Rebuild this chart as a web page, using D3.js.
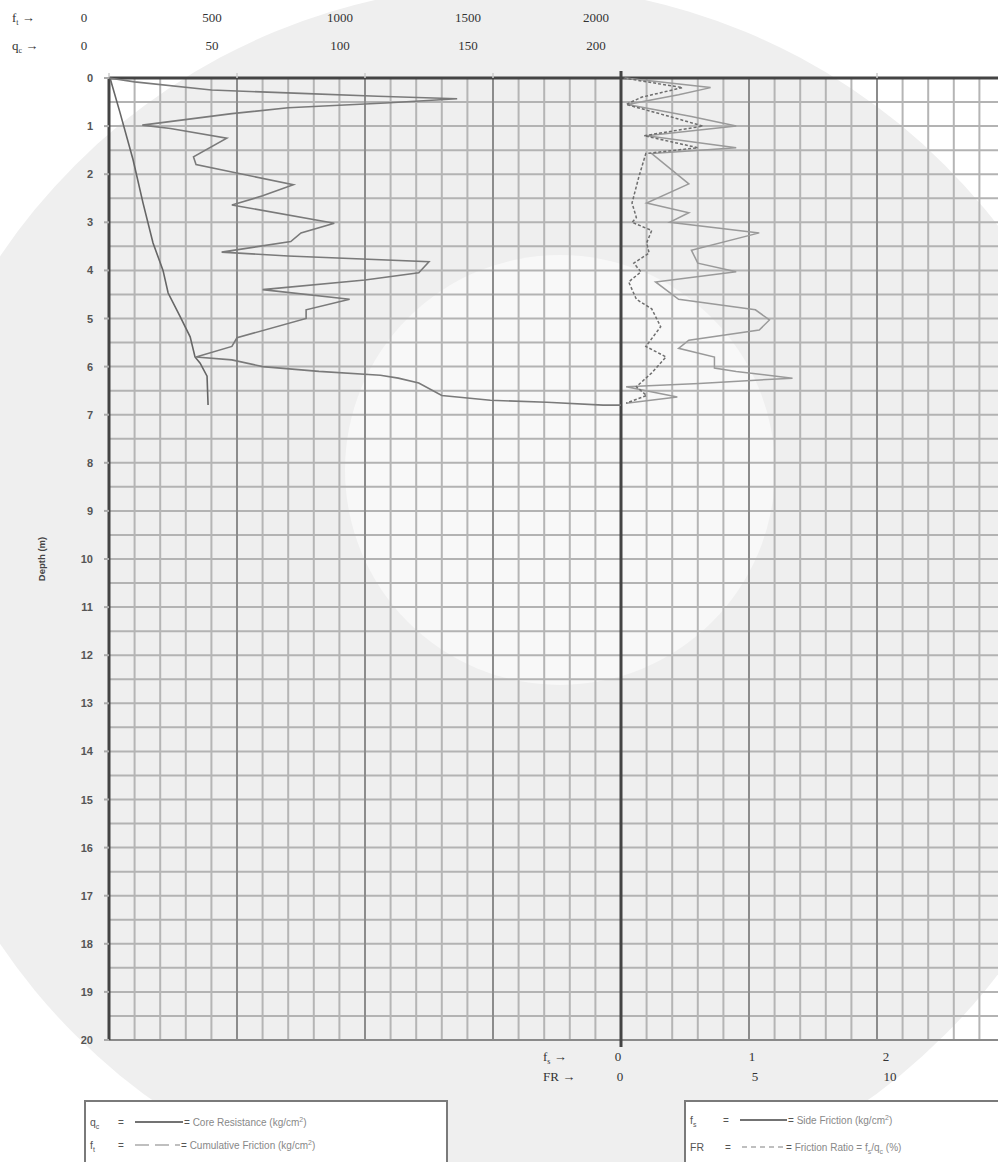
<!DOCTYPE html>
<html>
<head>
<meta charset="utf-8">
<script src="https://cdn.jsdelivr.net/npm/d3@7"></script>
<style>
  body { margin: 0; background: #fff; }
  svg { display: block; }
  .serif { font-family: "Liberation Serif", "DejaVu Serif", serif; fill: #333; }
  .sans { font-family: "Liberation Sans", Arial, sans-serif; }
</style>
</head>
<body>
<div id="wrapper"></div>
<script>
// tick labels
const depthTicks = d3.range(0, 21);
const ftTicks = [0, 500, 1000, 1500, 2000];
const qcTicks = [0, 50, 100, 150, 200];
const fsTicks = [0, 1, 2];
const frTicks = [0, 5, 10];

// cone resistance qc (kg/cm2) vs depth (m)
const qcDepth = [0, 0.08, 0.25, 0.32, 0.38, 0.43, 0.52, 0.62, 0.74, 0.98, 1.05, 1.25, 1.64, 1.8, 2.22, 2.45, 2.64, 3.02, 3.22, 3.4, 3.62, 3.7, 3.82, 4.05, 4.2, 4.4, 4.6, 4.82, 5.0, 5.4, 5.58, 5.8, 5.86, 6.0, 6.1, 6.18, 6.24, 6.34, 6.6, 6.7, 6.74, 6.8, 6.8];
const qcValue = [0, 10, 40, 75, 105, 136, 108, 70, 48, 13, 24, 46, 33, 34, 72, 60, 48, 88, 75, 71, 44, 70, 125, 121, 100, 60, 94, 77, 77, 50, 48, 34, 48, 60, 82, 106, 113, 121, 130, 149, 171, 193, 200];

// cumulative friction ft (kg/cm) vs depth
const ftDepth = [0, 0.72, 1.7, 2.6, 3.43, 4.0, 4.47, 4.96, 5.38, 5.8, 5.93, 6.2, 6.8];
const ftValue = [4, 43, 94, 133, 172, 211, 231, 278, 317, 336, 356, 383, 387];

// side friction fs (kg/cm2) vs depth
const fsDepth = [0, 0.2, 0.35, 0.55, 0.8, 1.0, 1.2, 1.45, 1.57, 2.2, 2.6, 2.8, 3.0, 3.22, 3.58, 3.85, 4.03, 4.24, 4.6, 4.82, 5.03, 5.24, 5.45, 5.62, 5.8, 6.03, 6.1, 6.24, 6.35, 6.42, 6.63, 6.76];
const fsValue = [0.03, 0.7, 0.45, 0.05, 0.55, 0.9, 0.2, 0.9, 0.24, 0.53, 0.2, 0.53, 0.38, 1.08, 0.55, 0.6, 0.9, 0.27, 0.45, 1.05, 1.16, 1.08, 0.53, 0.45, 0.73, 0.73, 0.9, 1.34, 0.61, 0.04, 0.44, 0.04];

// friction ratio FR (%) vs depth
const frDepth = [0, 0.2, 0.4, 0.55, 0.8, 1.0, 1.2, 1.45, 1.57, 2.05, 2.6, 2.9, 3.0, 3.17, 3.43, 3.64, 3.85, 4.03, 4.24, 4.6, 4.8, 5.17, 5.58, 5.8, 6.13, 6.42, 6.6, 6.76];
const frValue = [0.1, 2.4, 0.8, 0.2, 1.9, 3.2, 0.9, 3.0, 0.97, 0.7, 0.43, 0.6, 0.43, 1.2, 1.0, 1.1, 0.5, 0.78, 0.3, 0.6, 1.2, 1.55, 0.97, 1.76, 1.2, 0.6, 1.0, 0.2];

const width = 998, height = 1162;
const plotLeft = 109, plotMid = 621, plotTop = 78, plotBottom = 1040;

const svg = d3.select('#wrapper').append('svg')
    .attr('width', width)
    .attr('height', height);

// scales
const yScale = d3.scaleLinear().domain([0, 20]).range([plotTop, plotBottom]);
const qcScale = d3.scaleLinear().domain([0, 200]).range([plotLeft, plotMid]);
const ftScale = d3.scaleLinear().domain([0, 2000]).range([plotLeft, plotMid]);
const fsScale = d3.scaleLinear().domain([0, 3]).range([plotMid, plotMid + 384]);
const frScale = d3.scaleLinear().domain([0, 15]).range([plotMid, plotMid + 384]);

// faint watermark background
svg.append('circle')
    .attr('cx', 510).attr('cy', 600).attr('r', 615)
    .attr('fill', '#efefef');
svg.append('circle')
    .attr('cx', 560).attr('cy', 470).attr('r', 215)
    .attr('fill', '#f8f8f8');

// grid
const grid = svg.append('g');
grid.selectAll('.hline')
    .data(d3.range(0.5, 20, 0.5))
    .enter().append('line')
    .attr('x1', plotLeft).attr('x2', width)
    .attr('y1', d => yScale(d)).attr('y2', d => yScale(d))
    .attr('stroke', '#b3b3b3').attr('stroke-width', 2);
grid.selectAll('.vq')
    .data(d3.range(10, 200, 10))
    .enter().append('line')
    .attr('x1', d => qcScale(d)).attr('x2', d => qcScale(d))
    .attr('y1', plotTop).attr('y2', plotBottom)
    .attr('stroke', d => d % 50 === 0 ? '#8c8c8c' : '#b5b5b5')
    .attr('stroke-width', 2);
grid.selectAll('.vf')
    .data(d3.range(1, 15))
    .enter().append('line')
    .attr('x1', d => fsScale(d * 0.2)).attr('x2', d => fsScale(d * 0.2))
    .attr('y1', plotTop).attr('y2', plotBottom)
    .attr('stroke', d => d % 5 === 0 ? '#8c8c8c' : '#b5b5b5')
    .attr('stroke-width', 2);

// frame
svg.append('line')
    .attr('x1', plotLeft - 4).attr('x2', width)
    .attr('y1', plotBottom).attr('y2', plotBottom)
    .attr('stroke', '#8a8a8a').attr('stroke-width', 2);
svg.append('line')
    .attr('x1', plotLeft).attr('x2', width)
    .attr('y1', plotTop).attr('y2', plotTop)
    .attr('stroke', '#444').attr('stroke-width', 3);
svg.append('line')
    .attr('x1', plotLeft).attr('x2', plotLeft)
    .attr('y1', plotTop).attr('y2', plotBottom)
    .attr('stroke', '#444').attr('stroke-width', 3);
svg.append('line')
    .attr('x1', plotMid).attr('x2', plotMid)
    .attr('y1', plotTop - 7).attr('y2', plotBottom + 7)
    .attr('stroke', '#444').attr('stroke-width', 3);

// small ticks
svg.selectAll('.ttick')
    .data(qcTicks.slice(0, 4))
    .enter().append('line')
    .attr('x1', d => qcScale(d)).attr('x2', d => qcScale(d))
    .attr('y1', plotTop - 5).attr('y2', plotTop)
    .attr('stroke', '#ccc').attr('stroke-width', 1.5);
svg.append('line')
    .attr('x1', fsScale(2)).attr('x2', fsScale(2))
    .attr('y1', plotTop - 5).attr('y2', plotTop)
    .attr('stroke', '#ccc').attr('stroke-width', 1.5);
svg.selectAll('.dtick')
    .data(depthTicks)
    .enter().append('line')
    .attr('x1', plotLeft - 5).attr('x2', plotLeft)
    .attr('y1', d => yScale(d)).attr('y2', d => yScale(d))
    .attr('stroke', '#aaa').attr('stroke-width', 2);

// depth labels
svg.selectAll('.dlabel')
    .data(depthTicks)
    .enter().append('text')
    .attr('class', 'sans')
    .attr('x', 93)
    .attr('y', d => yScale(d) + 4)
    .attr('text-anchor', 'end')
    .attr('font-size', 11)
    .attr('font-weight', 'bold')
    .attr('fill', '#555')
    .text(d => d);
svg.append('text')
    .attr('class', 'sans')
    .attr('transform', `translate(45,${yScale(10)}) rotate(-90)`)
    .attr('text-anchor', 'middle')
    .attr('font-size', 9.5)
    .attr('font-weight', 'bold')
    .attr('fill', '#444')
    .text('Depth (m)');

// top axis labels
function axisName(x, y, main, sub) {
    const t = svg.append('text').attr('class', 'serif').attr('x', x).attr('y', y).attr('font-size', 13);
    t.append('tspan').text(main);
    t.append('tspan').attr('font-size', 8).attr('dy', 3).text(sub);
    t.append('tspan').attr('dy', -3).attr('font-weight', 'bold').text(' \u2192');
}
axisName(12, 22, 'f', 't');
axisName(12, 50, 'q', 'c');
svg.selectAll('.ftlabel')
    .data(ftTicks)
    .enter().append('text')
    .attr('class', 'serif')
    .attr('x', d => ftScale(d) - 25)
    .attr('y', 22)
    .attr('text-anchor', 'middle')
    .attr('font-size', 13)
    .text(d => d);
svg.selectAll('.qclabel')
    .data(qcTicks)
    .enter().append('text')
    .attr('class', 'serif')
    .attr('x', d => qcScale(d) - 25)
    .attr('y', 50)
    .attr('text-anchor', 'middle')
    .attr('font-size', 13)
    .text(d => d);

// bottom axis labels
axisName(543, 1061, 'f', 's');
svg.append('text').attr('class', 'serif').attr('x', 543).attr('y', 1081)
    .attr('font-size', 13).text('FR \u2192');
svg.selectAll('.fslabel')
    .data(fsTicks)
    .enter().append('text')
    .attr('class', 'serif')
    .attr('x', (d, i) => fsScale(d) - 3 + i * 6)
    .attr('y', 1061)
    .attr('text-anchor', 'middle')
    .attr('font-size', 13)
    .text(d => d);
svg.selectAll('.frlabel')
    .data(frTicks)
    .enter().append('text')
    .attr('class', 'serif')
    .attr('x', (d, i) => frScale(d) - 1 + i * 7)
    .attr('y', 1081)
    .attr('text-anchor', 'middle')
    .attr('font-size', 13)
    .text(d => d);

// curves
const qcLine = d3.line().x(d => qcScale(d[1])).y(d => yScale(d[0]));
const ftLine = d3.line().x(d => ftScale(d[1])).y(d => yScale(d[0]));
const fsLine = d3.line().x(d => fsScale(d[1])).y(d => yScale(d[0]));
const frLine = d3.line().x(d => frScale(d[1])).y(d => yScale(d[0]));

svg.append('path')
    .attr('d', ftLine(d3.zip(ftDepth, ftValue)))
    .attr('fill', 'none').attr('stroke', '#666').attr('stroke-width', 1.6);
svg.append('path')
    .attr('d', qcLine(d3.zip(qcDepth, qcValue)))
    .attr('fill', 'none').attr('stroke', '#7a7a7a').attr('stroke-width', 1.6);
svg.append('path')
    .attr('d', fsLine(d3.zip(fsDepth, fsValue)))
    .attr('fill', 'none').attr('stroke', '#9a9a9a').attr('stroke-width', 1.5);
svg.append('path')
    .attr('d', frLine(d3.zip(frDepth, frValue)))
    .attr('fill', 'none').attr('stroke', '#6e6e6e').attr('stroke-width', 1.5)
    .attr('stroke-dasharray', '3,2');

// legends
function legendBox(x, w) {
    svg.append('rect')
        .attr('x', x).attr('y', 1101).attr('width', w).attr('height', 80)
        .attr('fill', '#fff').attr('stroke', '#7a7a7a').attr('stroke-width', 2);
}
function legendRow(x, y, main, sub, dashed, label, lineX0, lineX1) {
    const t = svg.append('text').attr('class', 'sans').attr('x', x).attr('y', y)
        .attr('font-size', 10.5).attr('fill', '#555');
    t.append('tspan').text(main);
    if (sub) t.append('tspan').attr('font-size', 7).attr('dy', 3).text(sub);
    svg.append('text').attr('class', 'sans').attr('x', lineX0 - 17).attr('y', y)
        .attr('font-size', 10).attr('fill', '#555').text('=');
    svg.append('line')
        .attr('x1', lineX0).attr('x2', lineX1)
        .attr('y1', y - 4).attr('y2', y - 4)
        .attr('stroke', dashed ? '#aaa' : '#444').attr('stroke-width', 1.5)
        .attr('stroke-dasharray', dashed);
    const l = svg.append('text').attr('class', 'sans').attr('x', lineX1 + 1).attr('y', y)
        .attr('font-size', 10).attr('fill', '#888');
    l.append('tspan').attr('fill', '#555').text('= ');
    label.forEach(p => {
        const s = l.append('tspan').text(p.t);
        if (p.sub) s.attr('font-size', 7).attr('dy', 3);
        if (p.sup) s.attr('font-size', 7).attr('dy', -4);
        if (p.back) s.attr('dy', p.back);
    });
}
legendBox(85, 362);
legendRow(90, 1126, 'q', 'c', null,
    [{ t: 'Core Resistance (kg/cm' }, { t: '2', sup: true }, { t: ')', back: 4 }], 135, 183);
legendRow(90, 1149, 'f', 't', '14,6',
    [{ t: 'Cumulative Friction (kg/cm' }, { t: '2', sup: true }, { t: ')', back: 4 }], 135, 180);
legendBox(685, 330);
legendRow(690, 1124, 'f', 's', null,
    [{ t: 'Side Friction (kg/cm' }, { t: '2', sup: true }, { t: ')', back: 4 }], 740, 787);
legendRow(690, 1151, 'FR', null, '5,4',
    [{ t: 'Friction Ratio = f' }, { t: 's', sub: true }, { t: '/q', back: -3 }, { t: 'c', sub: true }, { t: ' (%)', back: -3 }], 742, 785);
</script>
</body>
</html>
